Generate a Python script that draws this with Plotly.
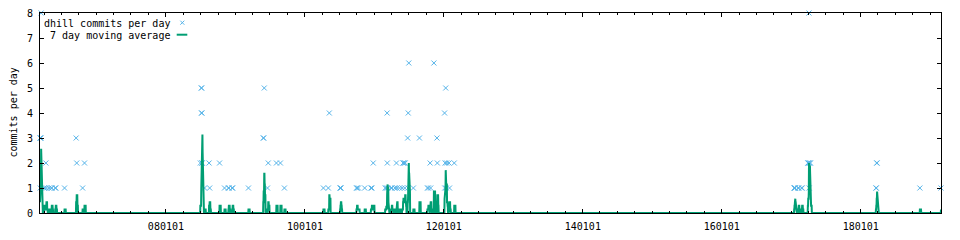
import pandas as pd
import plotly.graph_objects as go

# ---- data (daily commit counts, only days with commits) ----
commit_dates = [
    "2006-03-10", "2006-03-11", "2006-03-13", "2006-03-14", "2006-03-16",
    "2006-04-01", "2006-04-03", "2006-04-10", "2006-04-13", "2006-04-27",
    "2006-05-09", "2006-05-11", "2006-05-29", "2006-06-01", "2006-07-17",
    "2006-09-16", "2006-09-19", "2006-10-20", "2006-10-30",
    "2008-06-30", "2008-07-05", "2008-07-06", "2008-07-07", "2008-07-08",
    "2008-07-09", "2008-07-10", "2008-07-22", "2008-08-15", "2008-08-18",
    "2008-10-09", "2008-11-04", "2008-11-25", "2008-11-27", "2008-12-14",
    "2008-12-17",
    "2009-03-10", "2009-05-27", "2009-05-29", "2009-06-01", "2009-06-18",
    "2009-06-22", "2009-08-04", "2009-08-25", "2009-09-15",
    "2010-04-08", "2010-05-04", "2010-05-09", "2010-07-05", "2010-07-07",
    "2010-07-09", "2010-09-29", "2010-10-02", "2010-10-09", "2010-11-11",
    "2010-12-14", "2010-12-19", "2010-12-26",
    "2011-02-27", "2011-03-05", "2011-03-09", "2011-03-10", "2011-03-11",
    "2011-03-30", "2011-04-03", "2011-04-19", "2011-04-27", "2011-04-29",
    "2011-05-13", "2011-05-27", "2011-06-01", "2011-06-03", "2011-06-08",
    "2011-06-10", "2011-06-12", "2011-06-25", "2011-06-27", "2011-06-28",
    "2011-07-01", "2011-07-25", "2011-08-26", "2011-10-07", "2011-10-12",
    "2011-10-21", "2011-10-24", "2011-11-10", "2011-11-26", "2011-11-28",
    "2012-01-05", "2012-01-06", "2012-01-08", "2012-01-11", "2012-01-14",
    "2012-01-16", "2012-01-28", "2012-01-31", "2012-02-25",
    "2017-01-16", "2017-01-18", "2017-01-20", "2017-01-21", "2017-02-06",
    "2017-02-09", "2017-02-24", "2017-02-27", "2017-03-29", "2017-03-31",
    "2017-04-03", "2017-04-04", "2017-04-05", "2017-04-08", "2017-04-12",
    "2018-03-22", "2018-03-24", "2018-03-26", "2018-03-28", "2018-11-08",
    "2019-02-27",
]
commit_counts = [
    3, 1, 3, 3, 8,
    1, 1, 2, 1, 1,
    1, 1, 1, 1, 1,
    3, 2, 1, 2,
    2, 5, 4, 5, 4,
    2, 2, 1, 2, 1,
    2, 1, 1, 1, 1,
    1,
    1, 3, 3, 5, 1,
    2, 2, 2, 1,
    1, 1, 4, 1, 1,
    1, 1, 1, 1, 1,
    1, 1, 2,
    1, 1, 4, 2, 1,
    1, 1, 1, 2, 1,
    1, 1, 2, 2, 2,
    1, 2, 3, 1, 4,
    6, 1, 3, 1, 1,
    2, 1, 6, 3, 2,
    4, 1, 2, 5, 1,
    2, 2, 1, 2,
    1, 1, 1, 1, 1,
    1, 1, 1, 2, 2,
    2, 8, 1, 2, 2,
    1, 1, 2, 2, 1,
    1,
]
window_days = 7

x_tick_dates = ["2008-01-01", "2010-01-01", "2012-01-01", "2014-01-01",
                "2016-01-01", "2018-01-01"]
x_tick_labels = ["080101", "100101", "120101", "140101", "160101", "180101"]
y_tick_values = [0, 1, 2, 3, 4, 5, 6, 7, 8]

series_label = "dhill commits per day"
avg_label = " 7 day moving average"
y_title = "commits per day"

# ---- derived daily series and its 7 day moving average ----
s = pd.Series(commit_counts, index=pd.to_datetime(commit_dates)).groupby(level=0).sum()
days = pd.date_range(s.index.min(), s.index.max(), freq="D")
daily = s.reindex(days, fill_value=0)
moving = daily.rolling(window_days, min_periods=1).sum() / window_days

FONT = "DejaVu Sans Mono"
BLUE = "#56B4E9"
GREEN = "#009E73"

fig = go.Figure()
fig.add_trace(go.Scatter(
    x=s.index, y=s.values, mode="markers", cliponaxis=False,
    marker=dict(symbol="x-thin", size=5, color=BLUE,
                line=dict(color=BLUE, width=1)),
    showlegend=False, hoverinfo="skip"))
fig.add_trace(go.Scatter(
    x=moving.index, y=moving.values, mode="lines",
    line=dict(color=GREEN, width=2), showlegend=False, hoverinfo="skip"))

W, H = 960, 240
L, R, T, B = 40, 19, 13, 27
PW, PH = W - L - R, H - T - B


def px(xp):
    return (xp - L) / PW


def py(yp):
    return (H - B - yp) / PH


fig.update_layout(
    width=W, height=H, margin=dict(l=L, r=R, t=T, b=B, pad=0, autoexpand=False),
    paper_bgcolor="white", plot_bgcolor="white",
    font=dict(family=FONT, size=10, color="black"),
    showlegend=False,
    xaxis=dict(
        type="date", range=[days[0], days[-1]], automargin=False,
        tickmode="array", tickvals=x_tick_dates, ticktext=x_tick_labels,
        ticks="inside", ticklen=4, tickcolor="black", tickwidth=1,
        ticklabelstandoff=4,
        showline=True, linecolor="black", linewidth=1, mirror="ticks",
        showgrid=False, zeroline=False,
        minor=dict(dtick="M3", tick0="2006-01-01", ticks="inside",
                   ticklen=2, tickcolor="black", showgrid=False),
        tickfont=dict(family=FONT, size=10, color="black"),
    ),
    yaxis=dict(
        range=[0, 8], tickmode="array", tickvals=y_tick_values, automargin=False,
        ticks="inside", ticklen=4, tickcolor="black", tickwidth=1,
        ticklabelstandoff=4,
        showline=True, linecolor="black", linewidth=1, mirror="ticks",
        showgrid=False, zeroline=False,
        tickfont=dict(family=FONT, size=10, color="black"),
    ),
    annotations=[
        dict(text=y_title, xref="paper", yref="paper", x=px(12.5), y=0.5,
             xanchor="center", yanchor="middle", textangle=-90,
             showarrow=False, font=dict(family=FONT, size=10, color="black")),
        dict(text=series_label, xref="paper", yref="paper", x=px(171.5),
             y=py(23.3), xanchor="right", yanchor="middle", showarrow=False,
             font=dict(family=FONT, size=10, color="black")),
        dict(text=avg_label, xref="paper", yref="paper", x=px(171.5),
             y=py(35.5), xanchor="right", yanchor="middle", showarrow=False,
             font=dict(family=FONT, size=10, color="black")),
    ],
    shapes=[
        dict(type="line", xref="paper", yref="paper", xsizemode="pixel",
             ysizemode="pixel", xanchor=px(182.3), yanchor=py(22.7),
             x0=-2, x1=2, y0=-2, y1=2, line=dict(color=BLUE, width=1)),
        dict(type="line", xref="paper", yref="paper", xsizemode="pixel",
             ysizemode="pixel", xanchor=px(182.3), yanchor=py(22.7),
             x0=-2, x1=2, y0=2, y1=-2, line=dict(color=BLUE, width=1)),
        dict(type="line", xref="paper", yref="paper", x0=px(176.7),
             x1=px(187.3), y0=py(34.7), y1=py(34.7),
             line=dict(color=GREEN, width=2)),
    ],
)

fig.write_html("out.html")
